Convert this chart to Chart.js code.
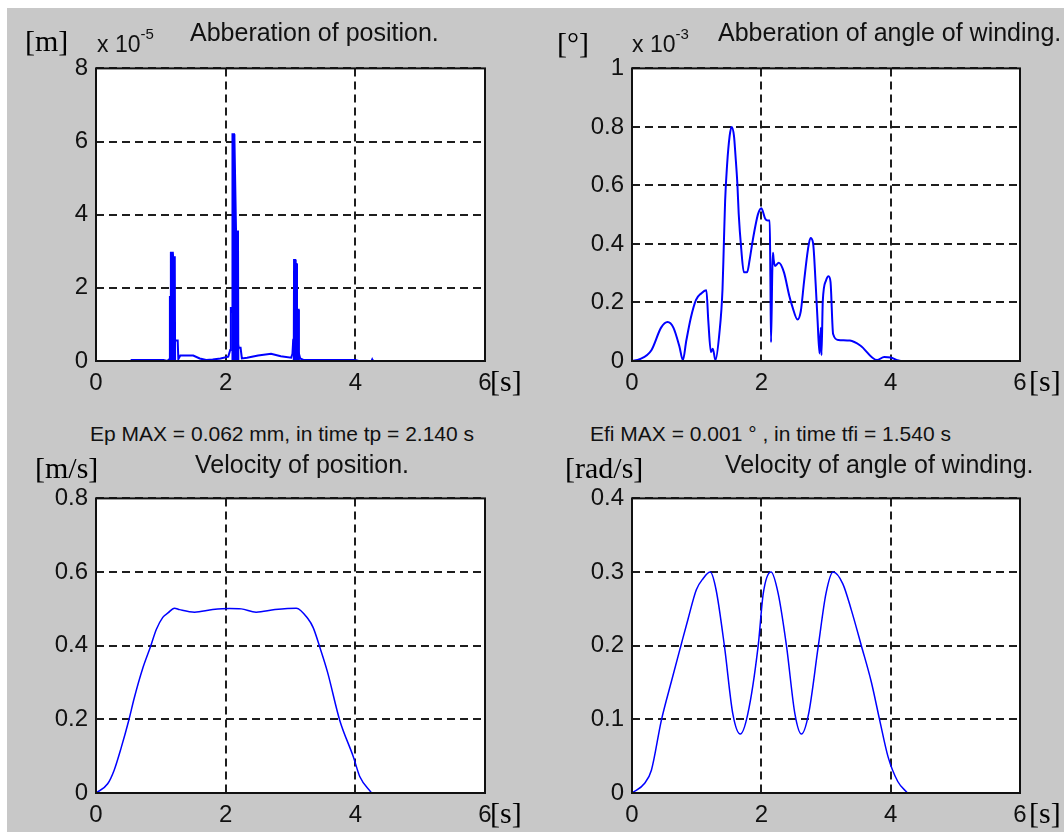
<!DOCTYPE html>
<html lang="en">
<head>
    <meta charset="UTF-8">
    <title>Abberation and velocity</title>
    <script src="https://cdn.jsdelivr.net/npm/chart.js@4.4.1/dist/chart.umd.min.js"></script>
    <style>
        * {
            margin: 0;
            padding: 0;
            box-sizing: border-box;
        }

        body {
            width: 1064px;
            height: 832px;
            background: #fff;
            position: relative;
            overflow: hidden;
            font-family: 'Liberation Sans', Arial, sans-serif;
        }

        .figure {
            position: absolute;
            left: 7px;
            top: 8px;
            width: 1057px;
            height: 824px;
            background: #c8c8c8;
        }

        canvas {
            position: absolute;
        }

        .txt {
            position: absolute;
            white-space: nowrap;
            line-height: 1;
            color: #111;
        }

        .title {
            font-size: 25px;
        }

        .unit {
            font-family: 'Liberation Serif', 'Times New Roman', serif;
            font-size: 30px;
            color: #000;
        }

        .note {
            font-size: 21px;
        }

        .exp {
            font-size: 23px;
        }

        .exp sup {
            font-size: 15px;
            position: relative;
            top: -4px;
        }
    </style>
</head>
<body>
    <div class="figure"></div>

    <canvas id="posErr"></canvas>
    <canvas id="angErr"></canvas>
    <canvas id="posVel"></canvas>
    <canvas id="angVel"></canvas>

    <!-- top left -->
    <div class="txt unit" style="left:25px;top:26px">[m]</div>
    <div class="txt exp" style="left:97px;top:30px">x 10<sup>-5</sup></div>
    <div class="txt title" style="left:190px;top:20px">Abberation of position.</div>
    <div class="txt unit" style="left:490px;top:366px">[s]</div>

    <!-- top right -->
    <div class="txt unit" style="left:557px;top:28px">[°]</div>
    <div class="txt exp" style="left:632px;top:30px">x 10<sup>-3</sup></div>
    <div class="txt title" style="left:718px;top:20px">Abberation of angle of winding.</div>
    <div class="txt unit" style="left:1029px;top:366px">[s]</div>

    <!-- notes -->
    <div class="txt note" style="left:90px;top:423px">Ep MAX = 0.062 mm, in time tp = 2.140 s</div>
    <div class="txt note" style="left:590px;top:423px">Efi MAX = 0.001 ° , in time tfi = 1.540 s</div>

    <!-- bottom left -->
    <div class="txt unit" style="left:35px;top:453px">[m/s]</div>
    <div class="txt title" style="left:195px;top:452px">Velocity of position.</div>
    <div class="txt unit" style="left:490px;top:798px">[s]</div>

    <!-- bottom right -->
    <div class="txt unit" style="left:565px;top:453px">[rad/s]</div>
    <div class="txt title" style="left:725px;top:452px">Velocity of angle of winding.</div>
    <div class="txt unit" style="left:1029px;top:798px">[s]</div>

    <script>
        // time ticks, shared by all four plots
        const timeTicks = [0, 2, 4, 6];

        // Abberation of position (x 10^-5 m) - outline
        const tPos = [0, 0.55, 0.55, 1.04, 1.10, 1.13, 1.14, 1.15, 1.22, 1.22, 1.26, 1.27, 1.30, 1.50, 1.60, 1.70, 1.80, 1.92,
            2.04, 2.07, 2.08, 2.10, 2.20, 2.20, 2.23, 2.25, 2.33, 2.50, 2.70, 2.85, 3.01, 3.03, 3.04, 3.05, 3.13, 3.15,
            3.20, 4.00, 4.05, 4.25, 4.26, 4.27];
        const ePos = [0, 0, 0.03, 0.03, 0, 0.05, 1.75, 1.75, 0.56, 0.56, 0.56, 0.05, 0.15, 0.15, 0.07, 0.03, 0.04, 0.07,
            0.12, 0.3, 1.45, 1.45, 0.36, 0.36, 0.36, 0.07, 0.09, 0.15, 0.2, 0.13, 0.09, 0.2, 0.52, 0.52, 0.2, 0.07,
            0.03, 0.03, 0, 0, 0.04, 0];
        // the dense spikes, drawn filled
        const tSpike = [1.15, 1.155, 1.185, 1.19, 1.215, 1.22, 1.5,
            2.10, 2.105, 2.13, 2.135, 2.16, 2.19, 2.195, 2.6,
            3.05, 3.055, 3.075, 3.08, 3.095, 3.10, 3.125, 3.13];
        const eSpike = [0, 2.96, 2.96, 2.84, 2.84, 0, null,
            0, 6.2, 6.2, 6.1, 3.54, 3.54, 0, null,
            0, 2.76, 2.76, 2.65, 2.65, 1.4, 1.4, 0];
        const posErrTicks = [0, 2, 4, 6, 8];

        // Abberation of angle of winding (x 10^-3 deg)
        const tAng = [0, 0.12, 0.30, 0.45, 0.55, 0.64, 0.735, 0.786, 0.84, 0.91, 0.99, 1.07, 1.15, 1.18, 1.22, 1.25,
            1.29, 1.35, 1.40, 1.42, 1.44, 1.47, 1.51, 1.54, 1.577, 1.60, 1.63, 1.65, 1.69, 1.73, 1.78, 1.82, 1.86,
            1.91, 1.95, 2.0, 2.06, 2.10, 2.13, 2.14, 2.15, 2.17, 2.18, 2.19, 2.21, 2.27, 2.35, 2.43, 2.48, 2.56,
            2.61, 2.66, 2.72, 2.76, 2.80, 2.84, 2.87, 2.90, 2.92, 2.93, 2.95, 3.0, 3.04, 3.07, 3.11, 3.19, 3.37,
            3.53, 3.79, 3.90, 4.0, 4.10, 4.16, 4.25];
        const eAng = [0, 0.006, 0.037, 0.114, 0.133, 0.114, 0.048, 0.003, 0.07, 0.148, 0.209, 0.231, 0.242, 0.137,
            0.031, 0.042, 0.003, 0.092, 0.247, 0.397, 0.547, 0.669, 0.769, 0.80, 0.769, 0.703, 0.603, 0.503, 0.381,
            0.303, 0.303, 0.347, 0.403, 0.464, 0.503, 0.522, 0.486, 0.48, 0.48, 0.28, 0.064, 0.314, 0.37, 0.347,
            0.325, 0.336, 0.303, 0.225, 0.186, 0.142, 0.17, 0.27, 0.38, 0.42, 0.403, 0.264, 0.137, 0.026, 0.114,
            0.02, 0.203, 0.275, 0.29, 0.27, 0.092, 0.072, 0.07, 0.053, 0.003, 0.014, 0.012, 0.003, 0, 0];
        const angErrTicks = [0, 0.2, 0.4, 0.6, 0.8, 1];

        // Velocity of position (m/s)
        const tVel = [0, 0.18, 0.28, 0.39, 0.505, 0.59, 0.72, 0.84, 0.93, 1.03, 1.11, 1.21, 1.29, 1.52, 1.80, 2.06,
            2.24, 2.47, 2.76, 3.09, 3.27, 3.35, 3.45, 3.57, 3.76, 3.97, 4.07, 4.25];
        const vPos = [0, 0.025, 0.062, 0.124, 0.197, 0.258, 0.338, 0.397, 0.444, 0.477, 0.489, 0.502, 0.498, 0.491,
            0.498, 0.501, 0.5, 0.491, 0.498, 0.502, 0.473, 0.449, 0.397, 0.329, 0.197, 0.098, 0.044, 0];
        const posVelTicks = [0, 0.2, 0.4, 0.6, 0.8];

        // Velocity of angle of winding (rad/s)
        const tOmega = [0, 0.196, 0.30, 0.454, 0.608, 0.753, 0.866, 0.995, 1.098, 1.21, 1.30, 1.43, 1.56, 1.675, 1.79,
            1.95, 2.03, 2.15, 2.26, 2.39, 2.52, 2.62, 2.73, 2.88, 3.0, 3.11, 3.26, 3.39, 3.55, 3.70, 3.83, 3.96, 4.11, 4.26];
        const vAng = [0, 0.0133, 0.031, 0.0987, 0.151, 0.199, 0.236, 0.276, 0.291, 0.3, 0.276, 0.199, 0.107, 0.08,
            0.107, 0.199, 0.271, 0.3, 0.271, 0.199, 0.107, 0.08, 0.107, 0.199, 0.271, 0.3, 0.284, 0.249, 0.199,
            0.151, 0.099, 0.049, 0.0156, 0];
        const angVelTicks = [0, 0.1, 0.2, 0.3, 0.4];

        const BLUE = '#0000ff';
        const PAD_L = 60, PAD_T = 16, PAD_R = 16, PAD_B = 40;

        function pairs(xs, ys) {
            return xs.map((x, i) => ({ x: x, y: ys[i] }));
        }

        // white axes face and solid box round it, like matlab
        const boxPlugin = {
            id: 'box',
            beforeDraw(chart) {
                const a = chart.chartArea;
                const ctx = chart.ctx;
                ctx.save();
                ctx.fillStyle = '#fff';
                ctx.fillRect(a.left, a.top, a.right - a.left, a.bottom - a.top);
                ctx.restore();
            },
            afterDraw(chart) {
                const a = chart.chartArea;
                const ctx = chart.ctx;
                ctx.save();
                ctx.strokeStyle = '#111';
                ctx.lineWidth = 2;
                ctx.strokeRect(a.left, a.top, a.right - a.left, a.bottom - a.top);
                ctx.restore();
            }
        };

        function axisOpts(ticks, min, max, isX) {
            return {
                type: 'linear',
                min: min,
                max: max,
                afterBuildTicks: s => { s.ticks = ticks.map(v => ({ value: v })); },
                afterFit: s => {
                    if (isX) s.height = PAD_B;
                    else s.width = PAD_L;
                },
                grid: {
                    color: '#1e1e1e',
                    lineWidth: 2,
                    drawTicks: false
                },
                border: {
                    display: false,
                    dash: [8, 5]
                },
                ticks: {
                    color: '#111',
                    padding: 8,
                    font: { family: "'Liberation Sans', Arial, sans-serif", size: 24 },
                    callback: v => String(Math.round(v * 10) / 10)
                }
            };
        }

        function makePlot(id, rect, datasets, yTicks) {
            const cv = document.getElementById(id);
            const w = rect.right - rect.left + PAD_L + PAD_R;
            const h = rect.bottom - rect.top + PAD_T + PAD_B;
            cv.width = w;
            cv.height = h;
            cv.style.left = (rect.left - PAD_L) + 'px';
            cv.style.top = (rect.top - PAD_T) + 'px';
            cv.style.width = w + 'px';
            cv.style.height = h + 'px';

            new Chart(cv, {
                type: 'line',
                data: { datasets: datasets },
                options: {
                    responsive: false,
                    animation: false,
                    layout: { padding: { left: 0, top: PAD_T, right: PAD_R, bottom: 0 } },
                    plugins: {
                        legend: { display: false },
                        tooltip: { enabled: false }
                    },
                    elements: { point: { radius: 0 }, line: { tension: 0 } },
                    scales: {
                        x: axisOpts(timeTicks, 0, 6, true),
                        y: axisOpts(yTicks, yTicks[0], yTicks[yTicks.length - 1], false)
                    }
                },
                plugins: [boxPlugin]
            });
        }

        makePlot('posErr', { left: 96, top: 62, right: 485, bottom: 361 }, [
            { data: pairs(tPos, ePos), borderColor: BLUE, borderWidth: 2, fill: false },
            { data: pairs(tSpike, eSpike), borderColor: BLUE, backgroundColor: BLUE, borderWidth: 2, fill: 'origin', spanGaps: false }
        ], posErrTicks);

        makePlot('angErr', { left: 632, top: 62, right: 1020, bottom: 361 }, [
            { data: pairs(tAng, eAng), borderColor: BLUE, borderWidth: 2, fill: false, cubicInterpolationMode: 'monotone' }
        ], angErrTicks);

        makePlot('posVel', { left: 96, top: 492, right: 485, bottom: 793 }, [
            { data: pairs(tVel, vPos), borderColor: BLUE, borderWidth: 1.5, fill: false, cubicInterpolationMode: 'monotone' }
        ], posVelTicks);

        makePlot('angVel', { left: 632, top: 492, right: 1020, bottom: 793 }, [
            { data: pairs(tOmega, vAng), borderColor: BLUE, borderWidth: 1.5, fill: false, cubicInterpolationMode: 'monotone' }
        ], angVelTicks);
    </script>
</body>
</html>
